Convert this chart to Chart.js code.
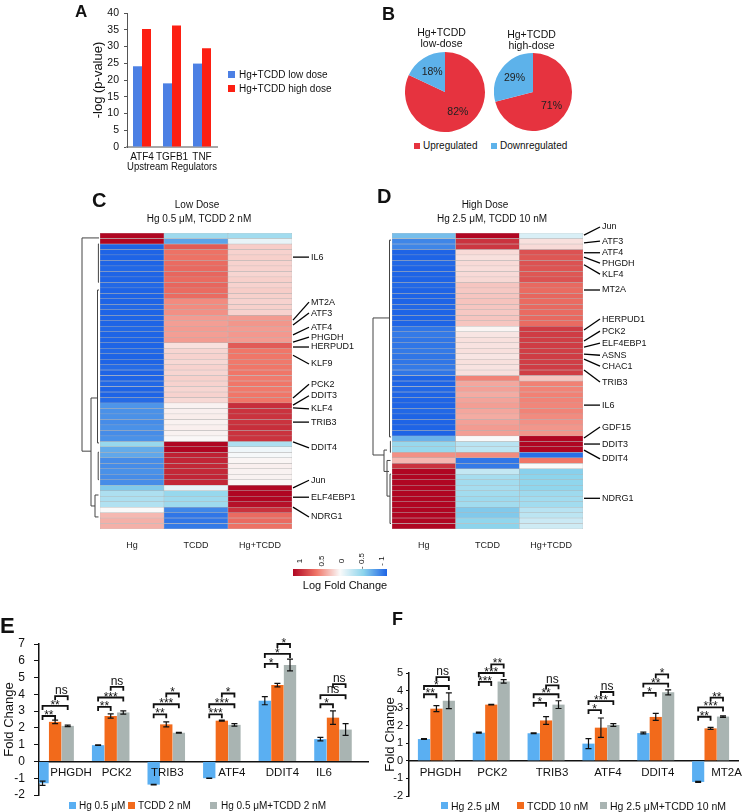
<!DOCTYPE html>
<html>
<head>
<meta charset="utf-8">
<script src="https://cdn.jsdelivr.net/npm/chart.js@4.4.1/dist/chart.umd.min.js"></script>
<style>
	body { margin: 0; background: #fff; }
	#fig { position: relative; width: 742px; height: 812px; overflow: hidden; font-family: 'Liberation Sans', Arial, sans-serif; color: #111; }
	#fig canvas { position: absolute; }
	.t { position: absolute; white-space: nowrap; line-height: 1; transform: translate(-50%, -50%); }
	.t.l { transform: translateY(-50%); }
	.t.b { font-weight: bold; }
	.t.r { transform: translate(-50%, -50%) rotate(-90deg); }
	.sq { position: absolute; width: 7px; height: 7px; }
</style>
</head>
<body>
<div id="fig">
	<canvas id="chartA" width="370" height="180" style="left:0;top:0"></canvas>
	<canvas id="pieLow" width="80" height="80" style="left:405px;top:52px"></canvas>
	<canvas id="pieHigh" width="78" height="78" style="left:494px;top:53px"></canvas>
	<canvas id="heatLow" width="310" height="370" style="left:60px;top:185px"></canvas>
	<canvas id="heatHigh" width="372" height="370" style="left:370px;top:185px"></canvas>
	<canvas id="chartE" width="370" height="212" style="left:0;top:600px"></canvas>
	<canvas id="chartF" width="361" height="212" style="left:381px;top:600px"></canvas>
</div>
<script>
// ---- A: upstream regulators
const regulators = ['ATF4', 'TGFB1', 'TNF']
const lowDoseLogP = [24.1, 19, 24.9]
const highDoseLogP = [35.2, 36.3, 29.5]

// ---- B: share of regulated genes (%)
const pieLabels = ['Upregulated', 'Downregulated']
const lowDoseShare = [82, 18]
const highDoseShare = [71, 29]

// ---- C / D: log fold change per gene row
const heatColumns = ['Hg', 'TCDD', 'Hg+TCDD']
const lowHg = [
	1.0, 1.0,
	-1.0, -1.0, -1.0, -1.0, -0.98, -1.0, -1.0, -0.98, -1.0, -1.0, -1.0, -0.98, -1.0, -1.0, -1.0, -0.98, -1.0, -1.0,
	-1.0, -0.98, -1.0, -1.0, -0.97, -1.0, -1.0, -0.98, -1.0, -1.0, -0.97,
	-0.78, -0.8, -0.8, -0.82, -0.8, -0.82, -0.8,
	-0.45, -0.68, -0.7, -0.82, -0.82, -0.8, -0.82, -0.82,
	-0.55, -0.35, -0.35, -0.33,
	0.0, 0.25, 0.28, 0.28
]
const lowTcdd = [
	-0.42, -0.72,
	0.62, 0.52, 0.52, 0.55, 0.56, 0.57, 0.55, 0.57, 0.55, 0.55,
	0.42, 0.42, 0.4,
	0.36, 0.35, 0.36, 0.35, 0.36,
	0.1, 0.14, 0.15, 0.13, 0.15, 0.14, 0.16, 0.15, 0.14, 0.15, 0.13,
	0.03, 0.04, 0.05, 0.03, 0.04, 0.03, 0.01,
	1.0, 1.0, 0.88, 0.86, 0.85, 0.85, 0.86, 0.85,
	-0.08, -0.45, -0.42, -0.42,
	-0.85, -0.92, -0.92, -0.9
]
const lowMix = [
	-0.4, -0.08,
	0.17, 0.15, 0.16, 0.15, 0.15, 0.14, 0.16, 0.15, 0.17, 0.16, 0.15, 0.16, 0.15,
	0.36, 0.38, 0.36, 0.37, 0.36,
	0.62, 0.5, 0.5, 0.49, 0.5, 0.5, 0.48, 0.5, 0.49, 0.5, 0.5,
	0.82, 0.8, 0.8, 0.8, 0.82, 0.8, 0.8,
	-0.35, -0.05, -0.02, 0.02, 0.04, 0.03, 0.03, 0.02,
	1.0, 1.0, 1.0, 0.95,
	0.8, 0.55, 0.55, 0.52
]
const highHg = [
	-0.6,
	-0.85, -0.85,
	-1.0, -1.0, -0.98, -1.0, -1.0, -1.0, -0.98, -1.0, -1.0, -1.0, -0.98, -1.0, -1.0, -1.0,
	-0.92, -0.9, -0.92, -0.92, -0.9, -0.92, -0.92, -0.9, -0.92,
	-1.0, -1.0, -0.98, -1.0, -1.0, -1.0, -0.98, -1.0, -1.0, -1.0, -1.0,
	-0.65, -0.45, -0.45,
	0.4, 0.25, 0.8,
	1.0, 1.0, 1.0, 1.0, 1.0, 1.0, 1.0, 1.0, 1.0, 1.0, 1.0
]
const highTcdd = [
	1.0,
	0.8, 0.78,
	0.12, 0.1, 0.12, 0.11, 0.12, 0.13, 0.2, 0.19, 0.2, 0.21, 0.2, 0.19, 0.2, 0.2,
	0.02, 0.08, 0.1, 0.09, 0.1, 0.08, 0.1, 0.09, 0.1,
	0.45, 0.32, 0.34, 0.3, 0.33, 0.35, 0.32, 0.3, 0.34, 0.36, 0.35,
	0.0, -0.3, -0.28,
	0.42, -0.92, -0.9,
	-0.25, -0.38, -0.4, -0.38, -0.4, -0.42, -0.4, -0.55, -0.55, -0.48, -0.5
]
const highMix = [
	-0.15,
	0.1, 0.12,
	0.66, 0.64, 0.66, 0.65, 0.64, 0.66, 0.56, 0.55, 0.57, 0.55, 0.56, 0.55, 0.56, 0.55,
	0.76, 0.76, 0.75, 0.76, 0.75, 0.76, 0.75, 0.76, 0.75,
	0.2, 0.46, 0.45, 0.46, 0.45, 0.44, 0.45, 0.42, 0.4, 0.38, 0.38,
	1.0, 1.0, 1.0,
	-0.95, 0.5, 0.0,
	-0.52, -0.5, -0.48, -0.48, -0.42, -0.4, -0.4, -0.3, -0.28, -0.22, -0.2
]
// gene, row it marks, row where its name sits
const lowGenes = [
	['IL6', 4.4, 4.4], ['MT2A', 15.9, 12.6], ['ATF3', 16.8, 14.6], ['ATF4', 18.6, 17.2],
	['PHGDH', 19.9, 19.0], ['HERPUD1', 20.8, 20.8], ['KLF9', 22.3, 23.9], ['PCK2', 30.1, 27.6],
	['DDIT3', 31.4, 29.7], ['KLF4', 31.9, 32.1], ['TRIB3', 34.5, 34.5], ['DDIT4', 38.1, 39.2],
	['Jun', 46.5, 45.1], ['ELF4EBP1', 48.2, 48.2], ['NDRG1', 50, 51.8]
]
const highGenes = [
	['Jun', 0.4, -1.1], ['ATF3', 1.8, 1.5], ['ATF4', 3.6, 3.6], ['PHGDH', 4.4, 5.5],
	['KLF4', 5.8, 7.5], ['MT2A', 10.4, 10.4], ['HERPUD1', 17.7, 15.7], ['PCK2', 19.7, 17.9],
	['ELF4EBP1', 20.8, 20.1], ['ASNS', 22.1, 22.3], ['CHAC1', 23.0, 24.3], ['TRIB3', 25.0, 27.2],
	['IL6', 31.4, 31.4], ['GDF15', 37.4, 35.4], ['DDIT3', 38.5, 38.5], ['DDIT4', 39.6, 41.2],
	['NDRG1', 48.4, 48.4]
]
// dendrogram merges: row a, row b, merge height, child heights
const lowTree = [
	[0.9, 39.8, 17, 0, 8], [30.1, 49.8, 8, 1.5, 4], [10.4, 38.3, 1.5, 0, 0],
	[47.8, 51.8, 4, 0.5, 0.5], [2, 9, 0.6, 0, 0], [40, 45, 0.8, 0, 0]
]
const highTree = [
	[15.5, 40.5, 18, 1.5, 7], [1.3, 37.2, 1.5, 0, 0], [39.6, 43.5, 7, 4, 2],
	[41.5, 48, 4, 0.5, 1], [44, 53, 1, 0, 0], [38, 40, 0.6, 0, 0]
]

// ---- E: low dose qPCR fold change
const genesE = ['PHGDH', 'PCK2', 'TRIB3', 'ATF4', 'DDIT4', 'IL6']
const hgE = [-1.3, 0.97, -1.38, -1.0, 3.62, 1.33]
const hgErrE = [0.13, 0.02, 0.02, 0.01, 0.24, 0.1]
const tcddE = [2.36, 2.71, 2.21, 2.43, 4.55, 2.61]
const tcddErrE = [0.1, 0.13, 0.15, 0.03, 0.1, 0.4]
const mixE = [2.12, 2.92, 1.71, 2.18, 5.75, 1.9]
const mixErrE = [0.04, 0.1, 0.02, 0.07, 0.35, 0.35]
// gene, series a, series b, bracket level, mark
const sigE = [
	[0, 0, 1, 2.71, '**'], [0, 0, 2, 3.31, '**'], [0, 1, 2, 3.89, 'ns'],
	[1, 0, 1, 3.25, '**'], [1, 0, 2, 3.81, '***'], [1, 1, 2, 4.45, 'ns'],
	[2, 0, 1, 2.81, '**'], [2, 0, 2, 3.41, '***'], [2, 1, 2, 4.05, '*'],
	[3, 0, 1, 2.81, '***'], [3, 0, 2, 3.41, '***'], [3, 1, 2, 4.05, '*'],
	[4, 0, 1, 5.81, '*'], [4, 0, 2, 6.41, '*'], [4, 1, 2, 7.0, '*'],
	[5, 0, 1, 3.41, '*'], [5, 0, 2, 3.95, 'ns'], [5, 1, 2, 4.61, 'ns']
]

// ---- F: high dose qPCR fold change
const genesF = ['PHGDH', 'PCK2', 'TRIB3', 'ATF4', 'DDIT4', 'MT2A']
const hgF = [1.24, 1.6, 1.57, 0.98, 1.58, -1.2]
const hgErrF = [0.02, 0.03, 0.02, 0.28, 0.05, 0.03]
const tcddF = [2.97, 3.2, 2.3, 1.89, 2.5, 1.85]
const tcddErrF = [0.17, 0.02, 0.22, 0.55, 0.2, 0.06]
const mixF = [3.42, 4.52, 3.2, 2.04, 3.9, 2.52]
const mixErrF = [0.45, 0.1, 0.22, 0.08, 0.14, 0.04]
const sigF = [
	[0, 0, 1, 3.79, '**'], [0, 0, 2, 4.26, '*'], [0, 1, 2, 4.77, 'ns'],
	[1, 0, 1, 4.49, '***'], [1, 0, 2, 5.0, '***'], [1, 1, 2, 5.49, '**'],
	[2, 0, 1, 3.3, '*'], [2, 0, 2, 3.79, '**'], [2, 1, 2, 4.3, 'ns'],
	[3, 0, 1, 2.89, '*'], [3, 0, 2, 3.4, '***'], [3, 1, 2, 3.92, 'ns'],
	[4, 0, 1, 3.87, '*'], [4, 0, 2, 4.4, '**'], [4, 1, 2, 4.92, '*'],
	[5, 0, 1, 2.51, '**'], [5, 0, 2, 3.04, '***'], [5, 1, 2, 3.6, '**']
]

const FONT = "'Liberation Sans', Arial, sans-serif"
Chart.defaults.font.family = FONT
Chart.defaults.color = '#111'
Chart.defaults.animation = false
Chart.defaults.responsive = false
Chart.defaults.plugins.legend.display = false
Chart.defaults.plugins.tooltip.enabled = false

const pieColors = ['#e6333f', '#5db2ea']
const foldColors = ['#5aaff2', '#f26a1b', '#a9b4b2']
const heatStops = [
	[-1, [30, 100, 230]],
	[-0.5, [140, 212, 236]],
	[0, [250, 250, 250]],
	[0.5, [240, 118, 104]],
	[1, [176, 6, 34]]
]

function heatColor(v) {
	v = Math.max(-1, Math.min(1, v))
	for (let k = 1; k < heatStops.length; k++) {
		const [v1, c1] = heatStops[k]
		if (v <= v1) {
			const [v0, c0] = heatStops[k - 1]
			const t = (v - v0) / (v1 - v0)
			return 'rgb(' + c0.map((c, j) => Math.round(c + (c1[j] - c) * t)).join(',') + ')'
		}
	}
}

// ---- A
new Chart(document.getElementById('chartA'), {
	type: 'bar',
	data: {
		labels: regulators,
		datasets: [
			{ data: lowDoseLogP, backgroundColor: '#4c80e4', categoryPercentage: 0.6, barPercentage: 1 },
			{ data: highDoseLogP, backgroundColor: '#fc1f12', categoryPercentage: 0.6, barPercentage: 1 }
		]
	},
	options: {
		layout: { padding: { left: 87, right: 153, top: 13, bottom: 0 } },
		scales: {
			x: {
				grid: { display: false, drawTicks: false },
				border: { color: '#a8a8a8', width: 2 },
				ticks: { font: { size: 10 }, padding: 4, maxRotation: 0, minRotation: 0, autoSkip: false },
				title: { display: true, text: 'Upstream Regulators', font: { size: 10 }, padding: { top: 0, bottom: 7 } },
				afterFit: (s) => { s.height = 33 }
			},
			y: {
				min: 0,
				max: 40,
				ticks: { stepSize: 5, font: { size: 10.5 }, padding: 5, autoSkip: false },
				grid: { drawOnChartArea: false, tickLength: 3, color: '#555' },
				border: { color: '#555' },
				title: { display: true, text: '-log (p-value)', font: { size: 13 }, padding: { top: 4, bottom: 0 } },
				afterFit: (s) => { s.width = 40 }
			}
		}
	}
})

// ---- B
const percentPlugin = {
	id: 'percent',
	afterDatasetsDraw(chart) {
		const { ctx } = chart
		ctx.save()
		ctx.fillStyle = '#222'
		ctx.font = '10.5px ' + FONT
		ctx.textAlign = 'center'
		ctx.textBaseline = 'middle'
		chart.getDatasetMeta(0).data.forEach((arc, i) => {
			const mid = (arc.startAngle + arc.endAngle) / 2
			const r = arc.outerRadius * 0.6
			ctx.fillText(chart.data.datasets[0].data[i] + '%', arc.x + Math.cos(mid) * r, arc.y + Math.sin(mid) * r)
		})
		ctx.restore()
	}
}
function pie(id, shares) {
	new Chart(document.getElementById(id), {
		type: 'pie',
		data: { labels: pieLabels, datasets: [{ data: shares, backgroundColor: pieColors, borderWidth: 0, hoverOffset: 0 }] },
		plugins: [percentPlugin]
	})
}
pie('pieLow', lowDoseShare)
pie('pieHigh', highDoseShare)

// ---- C / D
function treePlugin(tree) {
	return {
		id: 'tree',
		afterDatasetsDraw(chart) {
			const { ctx, chartArea } = chart
			const y = chart.scales.y
			const x = (h) => chartArea.left - 1 - h
			ctx.save()
			ctx.strokeStyle = '#444'
			ctx.lineWidth = 1
			tree.forEach(([ra, rb, h, ha, hb]) => {
				ctx.beginPath()
				ctx.moveTo(x(ha), y.getPixelForValue(ra))
				ctx.lineTo(x(h), y.getPixelForValue(ra))
				ctx.lineTo(x(h), y.getPixelForValue(rb))
				ctx.lineTo(x(hb), y.getPixelForValue(rb))
				ctx.stroke()
			})
			ctx.restore()
		}
	}
}
function genePlugin(genes) {
	return {
		id: 'genes',
		afterDatasetsDraw(chart) {
			const { ctx, chartArea } = chart
			const y = chart.scales.y
			const x0 = chartArea.right + 1
			const x1 = chartArea.right + 17
			ctx.save()
			ctx.strokeStyle = '#000'
			ctx.lineWidth = 1.3
			ctx.fillStyle = '#111'
			ctx.font = '9px ' + FONT
			ctx.textBaseline = 'middle'
			genes.forEach(([name, row, labelRow]) => {
				ctx.beginPath()
				ctx.moveTo(x0, y.getPixelForValue(row))
				ctx.lineTo(x1, y.getPixelForValue(labelRow))
				ctx.stroke()
				ctx.fillText(name, x1 + 2, y.getPixelForValue(labelRow))
			})
			ctx.restore()
		}
	}
}
function heatmap(id, cols, genes, tree, padding) {
	const rows = cols[0].length
	new Chart(document.getElementById(id), {
		type: 'bar',
		data: {
			labels: heatColumns,
			datasets: cols[0].map((_, i) => ({
				data: cols.map(() => 1),
				backgroundColor: cols.map((c) => heatColor(c[i])),
				borderColor: '#b4b4b4',
				borderWidth: 0.5,
				borderSkipped: false,
				barPercentage: 1,
				categoryPercentage: 1
			}))
		},
		options: {
			layout: { padding },
			scales: {
				x: {
					stacked: true,
					grid: { display: false, drawTicks: false },
					border: { display: false },
					ticks: { font: { size: 9 }, padding: 11, color: '#222', maxRotation: 0 },
					afterFit: (s) => { s.height = 26 }
				},
				y: { stacked: true, display: false, reverse: true, min: 0, max: rows }
			}
		},
		plugins: [treePlugin(tree), genePlugin(genes)]
	})
}
heatmap('heatLow', [lowHg, lowTcdd, lowMix], lowGenes, lowTree, { left: 40, right: 78, top: 48, bottom: 0 })
heatmap('heatHigh', [highHg, highTcdd, highMix], highGenes, highTree, { left: 22, right: 159, top: 48, bottom: 0 })

// ---- E / F
function markPlugin(errors, sig, shifts) {
	return {
		id: 'marks',
		afterDatasetsDraw(chart) {
			const { ctx } = chart
			const y = chart.scales.y
			const barsOf = (d) => chart.getDatasetMeta(d).data
			ctx.save()
			ctx.strokeStyle = '#111'
			ctx.fillStyle = '#111'
			ctx.lineWidth = 1.2
			errors.forEach((errs, d) => {
				barsOf(d).forEach((bar, i) => {
					const v = chart.data.datasets[d].data[i].y
					const hi = y.getPixelForValue(v + errs[i])
					const lo = y.getPixelForValue(v - errs[i])
					ctx.beginPath()
					ctx.moveTo(bar.x, hi); ctx.lineTo(bar.x, lo)
					ctx.moveTo(bar.x - 3, hi); ctx.lineTo(bar.x + 3, hi)
					ctx.moveTo(bar.x - 3, lo); ctx.lineTo(bar.x + 3, lo)
					ctx.stroke()
				})
			})
			ctx.lineWidth = 1.8
			ctx.textAlign = 'center'
			ctx.textBaseline = 'alphabetic'
			ctx.font = '12px ' + FONT
			sig.forEach(([g, a, b, level, text]) => {
				const xa = barsOf(a)[g].x
				const xb = barsOf(b)[g].x
				const yy = y.getPixelForValue(level)
				ctx.beginPath()
				ctx.moveTo(xa, yy + 4); ctx.lineTo(xa, yy); ctx.lineTo(xb, yy); ctx.lineTo(xb, yy + 4)
				ctx.stroke()
				ctx.fillText(text, (xa + xb) / 2, text[0] === '*' ? yy + 3 : yy - 2)
			})
			const zero = y.getPixelForValue(0)
			ctx.font = '11.5px ' + FONT
			ctx.textBaseline = 'middle'
			chart.data.labels.forEach((name, g) => {
				const mid = (barsOf(0)[g].x + barsOf(2)[g].x) / 2
				ctx.fillText(name, mid + shifts[g], zero + 11.5)
			})
			ctx.restore()
		}
	}
}
function foldChart(id, genes, series, errors, sig, shifts, axis) {
	new Chart(document.getElementById(id), {
		type: 'bar',
		data: {
			labels: genes,
			datasets: series.map((vals, d) => ({
				data: vals.map((v, i) => ({ x: i, y: v })),
				backgroundColor: foldColors[d],
				categoryPercentage: 0.68,
				barPercentage: 0.98
			}))
		},
		options: {
			layout: { padding: axis.padding },
			scales: {
				x: {
					type: 'linear',
					offset: false,
					min: axis.xMin,
					max: axis.xMax,
					position: { y: 0 },
					ticks: { display: false, stepSize: 1, includeBounds: false },
					grid: { offset: false, drawOnChartArea: false, drawTicks: false },
					border: { color: '#111', width: 1.5 }
				},
				y: {
					min: -2,
					max: axis.yMax,
					ticks: { stepSize: 1, font: { size: axis.tickSize }, padding: axis.tickPad, autoSkip: false },
					grid: { drawOnChartArea: false, tickLength: axis.tickLen, color: '#111' },
					border: { color: '#111', width: 1.5 },
					title: { display: true, text: 'Fold Change', font: { size: 13 }, padding: { top: 2, bottom: 0 } },
					afterFit: (s) => { s.width = axis.width }
				}
			}
		},
		plugins: [markPlugin(errors, sig, shifts)]
	})
}
foldChart('chartE', genesE, [hgE, tcddE, mixE], [hgErrE, tcddErrE, mixErrE], sigE, [16, 6, 1, 10, 5, -9], {
	padding: { left: 0, right: 2, top: 44, bottom: 17 }, xMin: -0.29, xMax: 5.63, yMax: 7,
	width: 39, tickPad: 9, tickLen: 5, tickSize: 12
})
foldChart('chartF', genesF, [hgF, tcddF, mixF], [hgErrF, tcddErrF, mixErrF], sigF, [4, 1, 6, 7, 2, 16], {
	padding: { left: 0, right: 4, top: 73, bottom: 16 }, xMin: -0.5, xMax: 5.5, yMax: 5,
	width: 28, tickPad: 3, tickLen: 3, tickSize: 11
})

// ---- texts, legends, colour bar
const fig = document.getElementById('fig')
function put(text, x, y, size, cls, extra) {
	const el = document.createElement('div')
	el.className = 't ' + (cls || '')
	el.textContent = text
	el.style.cssText = 'left:' + x + 'px;top:' + y + 'px;font-size:' + size + 'px;' + (extra || '')
	fig.appendChild(el)
}
function swatch(x, y, color, size) {
	const el = document.createElement('div')
	el.className = 'sq'
	el.style.cssText = 'left:' + x + 'px;top:' + y + 'px;background:' + color + ';width:' + size + 'px;height:' + size + 'px'
	fig.appendChild(el)
}

put('A', 75, 10.5, 17, 'l b')
put('B', 382, 13.5, 18, 'l b')
put('C', 92, 199.5, 20, 'l b')
put('D', 377, 195.5, 20, 'l b')
put('E', 0, 625.5, 22, 'l b')
put('F', 392, 618.5, 18, 'l b')

swatch(228, 71, '#4c80e4', 7)
swatch(228, 85, '#fc1f12', 7)
put('Hg+TCDD low dose', 239, 74.5, 10, 'l')
put('Hg+TCDD high dose', 239, 88.5, 10, 'l')

put('Hg+TCDD', 441.5, 32, 10.5)
put('low-dose', 441.5, 42.5, 10.5)
put('Hg+TCDD', 531.5, 34, 10.5)
put('high-dose', 531.5, 45, 10.5)
swatch(414, 143, pieColors[0], 6)
put(pieLabels[0], 423, 146, 10, 'l')
swatch(491, 143, pieColors[1], 6)
put(pieLabels[1], 500, 146, 10, 'l')

put('Low Dose', 197, 205, 10)
put('Hg 0.5 μM, TCDD 2 nM', 199, 219, 10)
put('High Dose', 485, 205, 10)
put('Hg 2.5 μM, TCDD 10 nM', 492, 219, 10)

const bar = document.createElement('div')
bar.style.cssText = 'position:absolute;left:293px;top:569px;width:94px;height:7px;background:linear-gradient(to right,' +
	[1, 0.5, 0, -0.5, -1].map(heatColor).join(',') + ')'
fig.appendChild(bar)
;[['1', 300], ['0.5', 322], ['0', 342], ['- 0.5', 362], ['- 1', 382]].forEach(([s, x]) => put(s, x, 561, 8, 'r'))
put('Log Fold Change', 345, 585, 11)

swatch(69, 802, foldColors[0], 7)
put('Hg 0.5 μM', 79, 805.5, 10, 'l')
swatch(128, 802, foldColors[1], 7)
put('TCDD 2 nM', 138, 805.5, 10, 'l')
swatch(210, 802, foldColors[2], 7)
put('Hg 0.5 μM+TCDD 2 nM', 221, 805.5, 10, 'l')

swatch(441, 802, foldColors[0], 7)
put('Hg 2.5 μM', 451, 805.5, 10.5, 'l')
swatch(517, 802, foldColors[1], 7)
put('TCDD 10 nM', 527, 805.5, 10.5, 'l')
swatch(600, 802, foldColors[2], 7)
put('Hg 2.5 μM+TCDD 10 nM', 610, 805.5, 10.5, 'l')
</script>
</body>
</html>
